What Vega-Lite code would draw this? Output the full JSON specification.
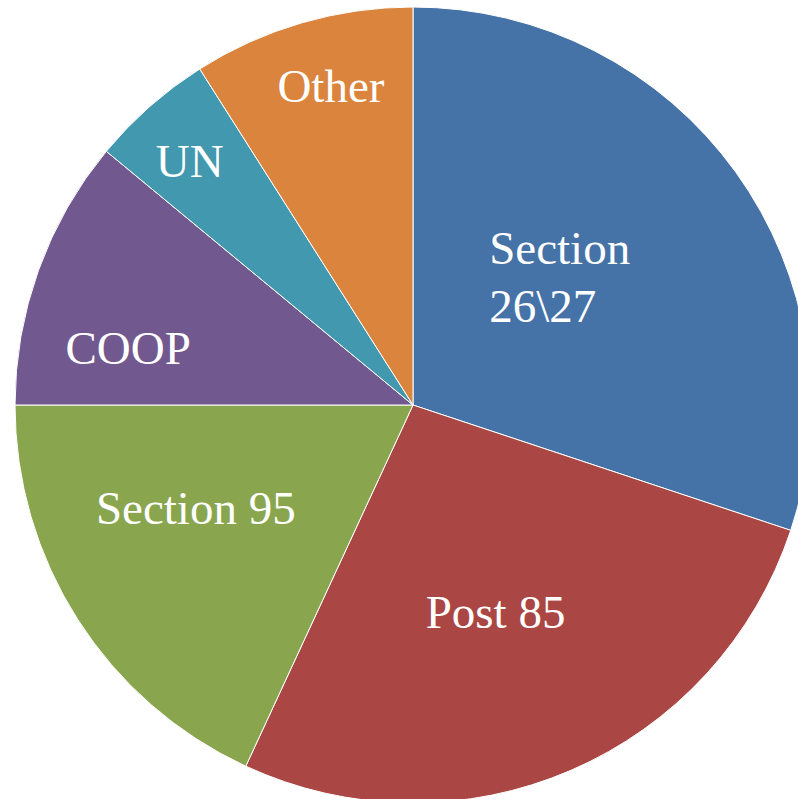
{
  "$schema": "https://vega.github.io/schema/vega-lite/v6.json",
  "width": 826,
  "height": 810,
  "padding": 0,
  "autosize": {"type": "none"},
  "background": "white",
  "config": {"view": {"stroke": null}},
  "data": {
    "values": [
      {"idx": 1, "category": "Section 26\\27", "label": "Section\n26\\27", "share": 30.1},
      {"idx": 2, "category": "Post 85", "label": "Post 85", "share": 26.8},
      {"idx": 3, "category": "Section 95", "label": "Section 95", "share": 18.1},
      {"idx": 4, "category": "COOP", "label": "COOP", "share": 11.0},
      {"idx": 5, "category": "UN", "label": "UN", "share": 5.0},
      {"idx": 6, "category": "Other", "label": "Other", "share": 9.0}
    ]
  },
  "encoding": {
    "theta": {"field": "share", "type": "quantitative", "stack": true},
    "order": {"field": "idx", "type": "quantitative"}
  },
  "layer": [
    {
      "mark": {"type": "arc", "outerRadius": 398, "stroke": "white", "strokeWidth": 1},
      "encoding": {
        "color": {
          "field": "category",
          "type": "nominal",
          "legend": null,
          "scale": {
            "domain": ["Section 26\\27", "Post 85", "Section 95", "COOP", "UN", "Other"],
            "range": ["#4572A7", "#AA4643", "#89A54E", "#71588F", "#4198AF", "#DB843D"]
          }
        }
      }
    },
    {
      "mark": {
        "type": "text",
        "font": "Liberation Serif",
        "fontSize": 47,
        "color": "white",
        "align": {"expr": "datum.idx == 1 ? 'left' : 'center'"},
        "baseline": "middle",
        "lineBreak": "\n",
        "lineHeight": 58,
        "radius": {"expr": "datum.idx == 1 ? 200 : datum.idx == 2 ? 228 : datum.idx == 3 ? 240 : datum.idx == 4 ? 290 : 330"},
        "dx": {"expr": "datum.idx == 1 ? -86 : datum.idx == 2 ? -8 : datum.idx == 3 ? -15 : datum.idx == 4 ? -12 : datum.idx == 5 ? -5 : 10"},
        "dy": {"expr": "datum.idx == 1 ? -38 : datum.idx == 3 ? -24 : datum.idx == 4 ? 43 : datum.idx == 5 ? 6 : 0"}
      },
      "encoding": {
        "text": {"field": "label", "type": "nominal"}
      }
    }
  ]
}
